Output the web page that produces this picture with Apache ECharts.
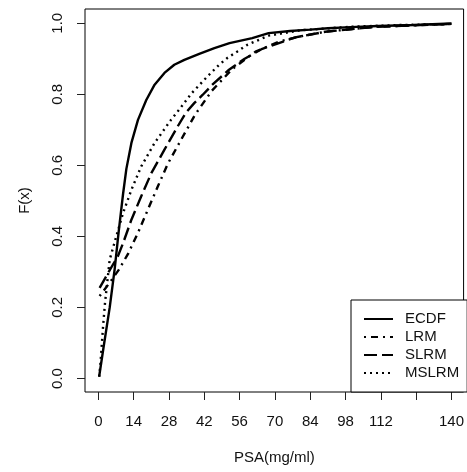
<!DOCTYPE html>
<html>
<head>
<meta charset="utf-8">
<script src="https://cdn.jsdelivr.net/npm/echarts@6/dist/echarts.min.js"></script>
<style>
	html, body { margin: 0; padding: 0; background: #fff; }
	#chart { width: 467px; height: 472px; }
</style>
</head>
<body>
<div id="chart"></div>
<script>
var xTicks = [0, 14, 28, 42, 56, 70, 84, 98, 112, 126, 140];
var xLabels = [0, 14, 28, 42, 56, 70, 84, 98, 112, 140];
var yTicks = [0, 0.2, 0.4, 0.6, 0.8, 1.0];
var seriesNames = ['ECDF', 'LRM', 'SLRM', 'MSLRM'];

// [PSA, F(x)]
var ecdf = [[0.3, 0.005], [2, 0.085], [4.5, 0.2], [6.5, 0.31], [8, 0.41], [9.8, 0.52],
	[11.1, 0.59], [13.1, 0.663], [15.7, 0.728], [19, 0.784], [22.3, 0.827], [26.2, 0.86],
	[30.1, 0.883], [34.1, 0.897], [40, 0.914], [46, 0.93], [52, 0.944], [61, 0.958],
	[67.5, 0.972], [76, 0.978], [84, 0.982], [91, 0.986], [100, 0.989], [111, 0.992],
	[125, 0.995], [140, 0.999]];
var lrm = [[0.5, 0.232], [4.5, 0.27], [8, 0.305], [11.7, 0.35], [15.7, 0.41], [19.6, 0.475],
	[23.6, 0.541], [27.5, 0.604], [32.8, 0.672], [38.3, 0.742], [45, 0.81], [53.1, 0.871],
	[62.3, 0.92], [71.5, 0.948], [79.4, 0.962], [90, 0.976], [110, 0.99], [140, 0.998]];
var slrm = [[0.5, 0.255], [4.5, 0.305], [7.8, 0.345], [9.8, 0.381], [13.1, 0.447], [17, 0.513],
	[21, 0.578], [26.2, 0.644], [31.4, 0.709], [34.7, 0.748], [38, 0.775], [41.3, 0.798],
	[45.2, 0.827], [51.8, 0.869], [58, 0.9], [65, 0.928], [78, 0.96], [90, 0.976],
	[110, 0.99], [140, 0.998]];
var mslrm = [[0.3, 0.005], [0.8, 0.04], [1.3, 0.09], [1.9, 0.15], [2.6, 0.21], [3.5, 0.27],
	[4.5, 0.335], [6.5, 0.385], [9.8, 0.466], [13.1, 0.531], [17, 0.597], [22.3, 0.663],
	[28.8, 0.728], [31.4, 0.751], [37, 0.803], [43.2, 0.85], [47.9, 0.883], [51.1, 0.902],
	[55, 0.92], [59, 0.939], [67.5, 0.965], [80, 0.98], [100, 0.99], [120, 0.995], [140, 0.998]];

var font = 'Liberation Sans, Arial, sans-serif';
var dashes = ['solid', [2, 5, 7, 5], [13, 5], [2, 4]];
var allData = [ecdf, lrm, slrm, mslrm];

var chart = echarts.init(document.getElementById('chart'));

var series = seriesNames.map(function(name, i) {
	return {
		name: name,
		type: 'line',
		data: allData[i],
		symbol: 'none',
		silent: true,
		lineStyle: {
			color: '#000',
			width: 2.4,
			type: dashes[i]
		},
		itemStyle: { color: '#000' }
	};
});

chart.setOption({
	animation: false,
	backgroundColor: '#fff',
	textStyle: { fontFamily: font },
	grid: {
		left: 85,
		top: 9,
		right: 1,
		bottom: 80,
		show: true,
		borderColor: '#000',
		borderWidth: 1,
		containLabel: false
	},
	legend: {
		data: seriesNames,
		orient: 'vertical',
		left: 351,
		top: 300,
		padding: [10, 8, 10, 12],
		itemWidth: 29,
		itemHeight: 10,
		itemGap: 0,
		borderColor: '#000',
		borderWidth: 1,
		backgroundColor: '#fff',
		selectedMode: false,
		itemStyle: { opacity: 0 },
		textStyle: {
			fontFamily: font,
			fontSize: 15,
			color: '#111',
			lineHeight: 18,
			padding: [0, 0, 0, 7]
		}
	},
	xAxis: {
		type: 'value',
		min: -5.3,
		max: 144.8,
		name: 'PSA(mg/ml)',
		nameLocation: 'middle',
		nameGap: 58,
		nameTextStyle: { fontFamily: font, fontSize: 15, color: '#111' },
		axisLine: { show: false, onZero: false },
		splitLine: { show: false },
		axisTick: {
			show: true,
			length: 8,
			customValues: xTicks,
			lineStyle: { color: '#222' }
		},
		axisLabel: {
			customValues: xLabels,
			margin: 22,
			fontFamily: font,
			fontSize: 15,
			color: '#111'
		}
	},
	yAxis: {
		type: 'value',
		min: -0.038,
		max: 1.04,
		name: 'F(x)',
		nameLocation: 'middle',
		nameGap: 53,
		nameTextStyle: { fontFamily: font, fontSize: 15, color: '#111' },
		axisLine: { show: false, onZero: false },
		splitLine: { show: false },
		axisTick: {
			show: true,
			length: 8,
			customValues: yTicks,
			lineStyle: { color: '#222' }
		},
		axisLabel: {
			customValues: yTicks,
			rotate: 90,
			margin: 20,
			fontFamily: font,
			fontSize: 15,
			color: '#111',
			formatter: function(v) {
				return v.toFixed(1);
			}
		}
	},
	series: series
});
</script>
</body>
</html>
